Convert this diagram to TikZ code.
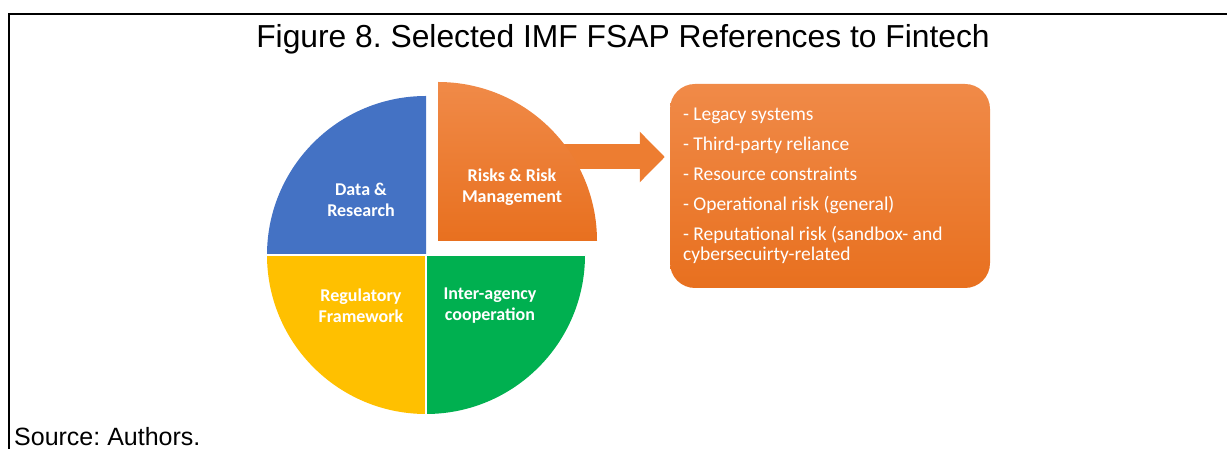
\documentclass[tikz,border=0pt]{standalone}
\usepackage{fontspec}
\setmainfont{Liberation Sans}
\newfontfamily\calibri{Carlito}
\usetikzlibrary{positioning,arrows.meta}
\definecolor{pieblue}{HTML}{4472C4}
\definecolor{pieyellow}{HTML}{FFC000}
\definecolor{piegreen}{HTML}{00B050}
\definecolor{pieorange}{HTML}{ED7D31}
\definecolor{orangelight}{HTML}{F08A48}
\definecolor{orangedark}{HTML}{E8701F}
\tikzset{
  plainspace/.style={execute at begin node={\spaceskip=0pt\xspaceskip=0pt\relax}},
  quadtext/.style={plainspace, text=white, align=center, font=\calibri\bfseries\fontsize{18}{21}\selectfont},
  riskbox/.style={plainspace, rounded corners=25pt, top color=orangelight, bottom color=orangedark,
    minimum width=320pt, minimum height=204pt, text width=294pt, inner xsep=13pt,
    align=left, text=white, font=\calibri\fontsize{19.5}{20}\selectfont},
  bigarrow/.style={draw=pieorange, line width=25pt, -{Triangle[length=25pt,width=49pt]}, shorten >=5pt}
}
\frenchspacing

\begin{document}
\begin{tikzpicture}[x=1pt,y=1pt]
	\useasboundingbox (0,0) rectangle (1227,449);
	\draw[line width=2.5pt] (9,0) -- (9,435) -- (1227,435);
	\node (title) at (623,410) {\fontsize{31.8}{33}\selectfont Figure 8. Selected IMF FSAP References to Fintech};
	\node [anchor=base west, inner sep=0pt] (source) at (14,3) {\fontsize{25}{27}\selectfont Source: Authors.};

	\coordinate (C) at (426,194);
	\coordinate (C2) at (438,208);
	\fill [pieblue] (C) -- ++(-159,0) arc[start angle=180, end angle=90, radius=159] -- cycle;
	\fill [pieyellow] (C) -- ++(-159,0) arc[start angle=180, end angle=270, radius=159] -- cycle;
	\fill [piegreen] (C) -- ++(159,0) arc[start angle=0, end angle=-90, radius=159] -- cycle;
	\draw [white, line width=1.5pt] (267,194) -- (585,194);
	\draw [white, line width=1.5pt] (426,194) -- (426,35);

	\coordinate (risk) at (560,292);
	\node [riskbox] (riskbox) at (830,263) {- Legacy systems\\[10pt]
		- Third-party reliance\\[10pt]
		- Resource constraints\\[10pt]
		- Operational risk (general)\\[10pt]
		- Reputational risk (sandbox- and\\
		cybersecuirty-related};
	\draw [bigarrow] (risk) -- (risk -| riskbox.west);
	\shade [top color=orangelight, bottom color=orangedark] (C2) -- ++(0,159) arc[start angle=90, end angle=0, radius=159] -- cycle;

	\node [quadtext] (data) at (361,249) {Data \&\\Research};
	\node [quadtext] (riskmgmt) at (512,262) {Risks \& Risk\\Management};
	\node [quadtext] (regfw) at (361,143) {Regulatory\\Framework};
	\node [quadtext] (interag) at (490,143) {Inter-agency\\cooperation};
\end{tikzpicture}
\end{document}
